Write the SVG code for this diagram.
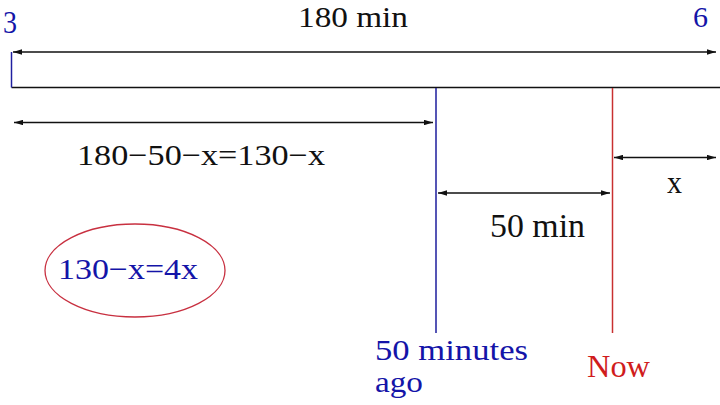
<svg xmlns="http://www.w3.org/2000/svg" width="720" height="405" viewBox="0 0 720 405">
<style>
text{font-family:"Liberation Serif","Times New Roman",serif;}
.blk{fill:#111;}
.blu{fill:#1414a8;}
.red{fill:#d01c1c;}
.ln{stroke:#111;stroke-width:1.5;fill:none;}
.dim{stroke:#111;stroke-width:1.5;fill:none;marker-start:url(#ah);marker-end:url(#ah);}
</style>
<defs>
<marker id="ah" viewBox="0 0 10 6" refX="10" refY="3" markerWidth="6" markerHeight="3.6" orient="auto-start-reverse" markerUnits="strokeWidth">
<path d="M0,0 L10,3 L0,6 Z" fill="#111"/>
</marker>
</defs>
<rect width="720" height="405" fill="#fff"/>
<g id="bar">
<line class="ln" x1="11.5" y1="87.5" x2="720" y2="87.5"/>
<line x1="11.5" y1="52" x2="11.5" y2="87.5" stroke="#2020a0" stroke-width="1.5"/>
</g>
<g id="connectors">
<line class="dim" x1="13" y1="52" x2="716" y2="52"/>
<line class="dim" x1="14" y1="122.5" x2="433" y2="122.5"/>
<line class="dim" x1="614" y1="157.5" x2="716" y2="157.5"/>
<line class="dim" x1="438" y1="193" x2="610" y2="193"/>
</g>
<g id="markers">
<line x1="436" y1="88" x2="436" y2="333" stroke="#1c1c9c" stroke-width="1.5"/>
<line x1="612.5" y1="88" x2="612.5" y2="333" stroke="#c83030" stroke-width="1.5"/>
</g>
<g id="labels">
<text class="blu" x="3" y="33" font-size="32" textLength="14" lengthAdjust="spacingAndGlyphs">3</text>
<text class="blk" x="298" y="27" font-size="30" textLength="110" lengthAdjust="spacingAndGlyphs">180 min</text>
<text class="blu" x="693" y="27" font-size="30" textLength="15" lengthAdjust="spacingAndGlyphs">6</text>
<text class="blk" x="77" y="165" font-size="30" textLength="248" lengthAdjust="spacingAndGlyphs">180−50−x=130−x</text>
<text class="blk" x="667" y="193" font-size="32" textLength="15" lengthAdjust="spacingAndGlyphs">x</text>
<text class="blk" x="490" y="237" font-size="34" textLength="95" lengthAdjust="spacingAndGlyphs">50 min</text>
<text class="blu" x="375" y="360" font-size="30" textLength="153" lengthAdjust="spacingAndGlyphs">50 minutes</text>
<text class="blu" x="375" y="392" font-size="30" textLength="48" lengthAdjust="spacingAndGlyphs">ago</text>
<text class="red" x="587" y="377" font-size="32" textLength="63" lengthAdjust="spacingAndGlyphs">Now</text>
</g>
<g id="equation">
<ellipse cx="135" cy="270.5" rx="90" ry="46.5" fill="none" stroke="#c83040" stroke-width="1.3"/>
<text class="blu" x="58" y="279" font-size="30" textLength="140" lengthAdjust="spacingAndGlyphs">130−x=4x</text>
</g>
</svg>
